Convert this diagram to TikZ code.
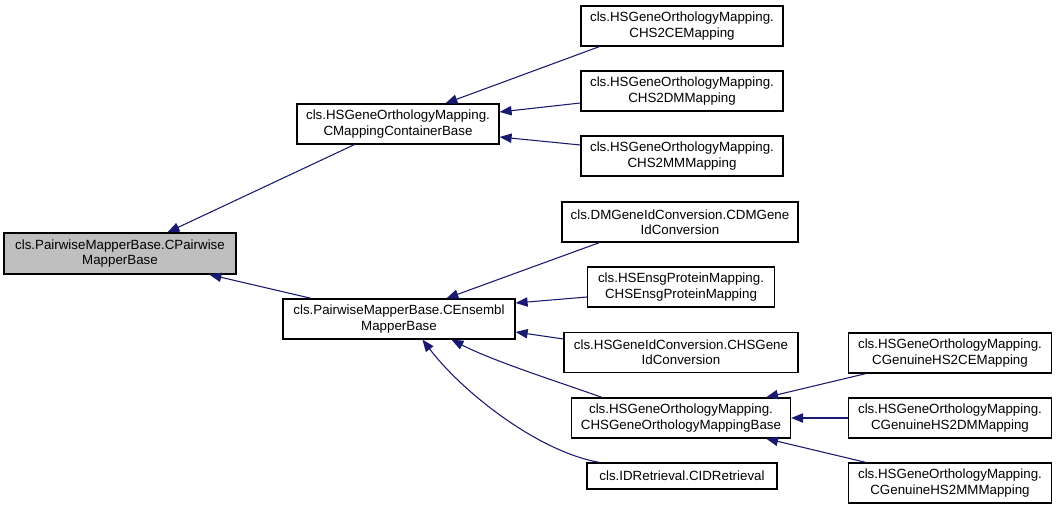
\documentclass[tikz,border=0pt]{standalone}
\usepackage{fontspec}
\setmainfont{Liberation Sans}
\usetikzlibrary{arrows.meta,calc}
\definecolor{edgeblue}{HTML}{191970}
\definecolor{rootgray}{HTML}{BFBFBF}
\tikzset{
  cls/.style={draw=black, line width=0.9pt, fill=white, inner sep=0pt, align=center,
    font=\fontsize{10}{11.5}\selectfont, text=black},
  rootcls/.style={cls, fill=rootgray},
  inh/.style={draw=edgeblue, line width=0.8pt, -{Triangle[length=9pt,width=7pt]}},
}
\begin{document}
\begin{tikzpicture}[x=0.75pt,y=-0.75pt]
\useasboundingbox[fill=white] (0,0) rectangle (1057,509);
% nodes
\node[rootcls, minimum width=232*0.75pt, minimum height=41*0.75pt] (root) at (120,253.5) {cls.PairwiseMapperBase.CPairwise\\MapperBase};
\node[cls, minimum width=202*0.75pt, minimum height=40*0.75pt] (cmap) at (398,124) {cls.HSGeneOrthologyMapping.\\CMappingContainerBase};
\node[cls, minimum width=232*0.75pt, minimum height=40*0.75pt] (cens) at (399,319) {cls.PairwiseMapperBase.CEnsembl\\MapperBase};
\node[cls, minimum width=202*0.75pt, minimum height=40*0.75pt] (ce) at (682,26) {cls.HSGeneOrthologyMapping.\\CHS2CEMapping};
\node[cls, minimum width=202*0.75pt, minimum height=40*0.75pt] (dm) at (682,91) {cls.HSGeneOrthologyMapping.\\CHS2DMMapping};
\node[cls, minimum width=202*0.75pt, minimum height=40*0.75pt] (mm) at (682,156) {cls.HSGeneOrthologyMapping.\\CHS2MMMapping};
\node[cls, minimum width=236*0.75pt, minimum height=40*0.75pt] (dmgene) at (680,222) {cls.DMGeneIdConversion.CDMGene\\IdConversion};
\node[cls, minimum width=187*0.75pt, minimum height=40*0.75pt] (ensg) at (681,287) {cls.HSEnsgProteinMapping.\\CHSEnsgProteinMapping};
\node[cls, minimum width=234*0.75pt, minimum height=40*0.75pt] (hsgene) at (681,352.5) {cls.HSGeneIdConversion.CHSGene\\IdConversion};
\node[cls, minimum width=219*0.75pt, minimum height=40*0.75pt] (gomb) at (681,418) {cls.HSGeneOrthologyMapping.\\CHSGeneOrthologyMappingBase};
\node[cls, minimum width=190*0.75pt, minimum height=26*0.75pt] (idr) at (682,476) {cls.IDRetrieval.CIDRetrieval};
\node[cls, minimum width=203*0.75pt, minimum height=40*0.75pt] (g2ce) at (950,353) {cls.HSGeneOrthologyMapping.\\CGenuineHS2CEMapping};
\node[cls, minimum width=203*0.75pt, minimum height=40*0.75pt] (g2dm) at (950,418) {cls.HSGeneOrthologyMapping.\\CGenuineHS2DMMapping};
\node[cls, minimum width=203*0.75pt, minimum height=40*0.75pt] (g2mm) at (950,483) {cls.HSGeneOrthologyMapping.\\CGenuineHS2MMMapping};
% edges (child -> base)
\draw[inh] ($(cmap.south west)+(58,0)$) -- ($(root.north west)+(164,0)$);
\draw[inh] ($(cens.north west)+(29,0)$) -- ($(root.south west)+(206,0)$);
\draw[inh] ($(ce.south west)+(19,0)$) -- ($(cmap.north west)+(149,0)$);
\draw[inh] ($(dm.west)+(0,12)$) -- ($(cmap.east)+(0,-12)$);
\draw[inh] ($(mm.west)+(0,-11)$) -- ($(cmap.east)+(0,13)$);
\draw[inh] ($(dmgene.south west)+(38,0)$) -- ($(cens.north west)+(164,0)$);
\draw[inh] ($(ensg.west)+(0,10)$) -- ($(cens.east)+(0,-16)$);
\draw[inh] ($(hsgene.west)+(0,-13.5)$) -- ($(cens.east)+(0,13)$);
\draw[inh] ($(gomb.north west)+(31,0)$) .. controls (565,384) and (495,362) .. ($(cens.south west)+(169,0)$);
\draw[inh] ($(idr.north west)+(13,0)$) .. controls (540,452) and (465,395) .. ($(cens.south west)+(140,0)$);
\draw[inh] ($(g2ce.south west)+(18,0)$) -- ($(gomb.north east)+(-25,0)$);
\draw[inh] (g2dm.west) -- (gomb.east);
\draw[inh] ($(g2mm.north west)+(18,0)$) -- ($(gomb.south east)+(-25,0)$);
\end{tikzpicture}
\end{document}
